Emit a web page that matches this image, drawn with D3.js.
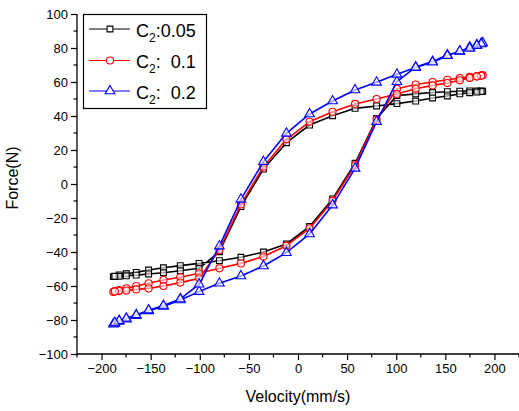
<!DOCTYPE html>
<html>
<head>
<meta charset="utf-8">
<script src="https://cdn.jsdelivr.net/npm/d3@7"></script>
<style>
  html, body { margin: 0; padding: 0; background: #fff; }
  svg { display: block; }
  text { font-family: "Liberation Sans", Arial, sans-serif; fill: #000; }
</style>
</head>
<body>
<svg id="chart" width="519" height="411"></svg>
<script>
// Velocity (mm/s) at each sample: rising branch, then falling branch (loop is closed)
const velocity = [-188, -186.5, -182.1, -174.8, -164.7, -152.1, -137, -119.8, -100.7, -80, -58.1, -35.2, -11.8,
  11.8, 35.2, 58.1, 80, 100.7, 119.8, 137, 152.1, 164.7, 174.8, 182.1, 186.5, 188,
  186.5, 182.1, 174.8, 164.7, 152.1, 137, 119.8, 100.7, 80, 58.1, 35.2, 11.8,
  -11.8, -35.2, -58.1, -80, -100.7, -119.8, -137, -152.1, -164.7, -174.8, -182.1, -186.5];

// Force (N) for C2 = 0.05
const forceC005 = [-54.5, -54.2, -53.5, -52.8, -52.0, -50.6, -49.3, -48.0, -46.7, -45.1, -43.1, -40.0, -35.3,
  -25.0, -8.8, 12.2, 38.5, 52.0, 53.0, 53.8, 54.3, 54.6, 54.8, 54.8, 54.7, 54.6,
  54.4, 54.1, 53.7, 53.0, 51.8, 50.6, 48.8, 47.3, 45.9, 44.5, 40.2, 34.7,
  24.3, 8.8, -13.3, -39.8, -49.6, -51.0, -52.2, -52.9, -53.6, -54.0, -54.3, -54.4];

// Force (N) for C2 = 0.1
const forceC01 = [-63.5, -63.0, -62.4, -61.4, -60.0, -58.4, -56.5, -54.9, -52.5, -49.6, -46.7, -42.7, -36.3,
  -26.1, -9.8, 11.0, 38.0, 56.0, 58.5, 60.0, 61.3, 62.3, 63.0, 63.5, 63.8, 64.0,
  63.7, 63.2, 62.3, 61.0, 59.4, 58.0, 56.0, 53.0, 50.0, 47.1, 42.5, 36.6,
  26.3, 10.2, -12.0, -38.8, -55.5, -58.0, -60.0, -61.4, -62.0, -62.7, -63.0, -63.3];

// Force (N) for C2 = 0.2
const forceC02 = [-82.5, -82.0, -80.8, -79.5, -77.5, -74.6, -72.0, -68.2, -63.3, -58.4, -54.1, -48.2, -40.4,
  -29.4, -12.4, 9.2, 36.7, 60.2, 68.8, 72.0, 75.9, 78.0, 80.5, 81.8, 82.6, 83.0,
  82.4, 81.4, 79.8, 78.2, 75.5, 71.6, 68.5, 64.5, 59.8, 55.3, 48.8, 41.2,
  29.8, 13.1, -9.0, -36.5, -59.0, -67.6, -71.5, -74.2, -77.0, -79.0, -80.4, -81.5];

const seriesNames = ["0.05", "  0.1", "  0.2"];
const xTicks = [-200, -150, -100, -50, 0, 50, 100, 150, 200];
const yTicks = [-100, -80, -60, -40, -20, 0, 20, 40, 60, 80, 100];
const xTitle = "Velocity(mm/s)";
const yTitle = "Force(N)";

const series = [
  { name: seriesNames[0], values: forceC005, color: "#000000", symbol: d3.symbolSquare, size: 34 },
  { name: seriesNames[1], values: forceC01, color: "#ff0000", symbol: d3.symbolCircle, size: 40 },
  { name: seriesNames[2], values: forceC02, color: "#0000ff", symbol: d3.symbolTriangle, size: 40 }
];

const svg = d3.select("#chart");
const mLeft = 77, mRight = 519, mTop = 14, mBottom = 354;

const x = d3.scaleLinear().domain([-225, 225]).range([mLeft, mRight]);
const y = d3.scaleLinear().domain([-100, 100]).range([mBottom, mTop]);

// Series
const line = d3.line()
  .x((d, i) => x(velocity[i]))
  .y(d => y(d))
  .curve(d3.curveLinearClosed);

series.forEach(s => {
  const g = svg.append("g");
  g.append("path")
    .attr("d", line(s.values))
    .attr("fill", "none")
    .attr("stroke", s.color)
    .attr("stroke-width", 1.6)
    .attr("stroke-linejoin", "round");
  g.selectAll("path.m")
    .data(s.values)
    .enter().append("path")
    .attr("class", "m")
    .attr("d", d3.symbol().type(s.symbol).size(s.size))
    .attr("transform", (d, i) => `translate(${x(velocity[i])},${y(d)})`)
    .attr("fill", "#ffffff")
    .attr("fill-opacity", 0.6)
    .attr("stroke", s.color)
    .attr("stroke-width", 1.1);
});

// Axes
const xMinor = d3.range(-225, 226, 25).filter(v => !xTicks.includes(v));
const yMinor = d3.range(-90, 91, 20);

const xAxis = svg.append("g").attr("transform", `translate(0,${mBottom})`);
xAxis.call(d3.axisBottom(x).tickValues(xTicks).tickSize(6).tickSizeOuter(0).tickPadding(4).tickFormat(d3.format("d")));
xAxis.selectAll("line.minor").data(xMinor).enter().append("line")
  .attr("class", "minor")
  .attr("x1", d => x(d)).attr("x2", d => x(d)).attr("y1", 0).attr("y2", 3.5)
  .attr("stroke", "#000").attr("stroke-width", 1.2);

const yAxis = svg.append("g").attr("transform", `translate(${mLeft},0)`);
yAxis.call(d3.axisLeft(y).tickValues(yTicks).tickSize(6).tickSizeOuter(0).tickPadding(3).tickFormat(d3.format("d")));
yAxis.selectAll("line.minor").data(yMinor).enter().append("line")
  .attr("class", "minor")
  .attr("x1", 0).attr("x2", -3.5).attr("y1", d => y(d)).attr("y2", d => y(d))
  .attr("stroke", "#000").attr("stroke-width", 1.2);

[xAxis, yAxis].forEach(a => {
  a.select(".domain").attr("stroke", "#000").attr("stroke-width", 1.3);
  a.selectAll(".tick line").attr("stroke", "#000").attr("stroke-width", 1.2);
  a.selectAll(".tick text").attr("font-size", 13).attr("font-family", "Liberation Sans, Arial, sans-serif").attr("fill", "#000");
});
xAxis.select(".domain").attr("d", `M${mLeft},0H${mRight}`);
yAxis.select(".domain").attr("d", `M0,${mBottom}V${mTop}`);

// Axis titles
svg.append("text")
  .attr("x", x(0)).attr("y", 402)
  .attr("text-anchor", "middle").attr("font-size", 16)
  .text(xTitle);
svg.append("text")
  .attr("transform", `translate(18,178) rotate(-90)`)
  .attr("text-anchor", "middle").attr("font-size", 16)
  .text(yTitle);

// Legend
const lg = svg.append("g");
lg.append("rect").attr("x", 83.5).attr("y", 14.5).attr("width", 123).attr("height", 94)
  .attr("fill", "#fff").attr("stroke", "#000").attr("stroke-width", 1.2);
const rowY = [29, 60.5, 91];
series.forEach((s, i) => {
  const yy = rowY[i];
  lg.append("line").attr("x1", 89).attr("x2", 130).attr("y1", yy).attr("y2", yy)
    .attr("stroke", s.color).attr("stroke-width", 1.1);
  lg.append("path").attr("d", d3.symbol().type(s.symbol).size(s.size)())
    .attr("transform", `translate(110,${yy})`)
    .attr("fill", "#fff").attr("stroke", s.color).attr("stroke-width", 1.1);
  const t = lg.append("text").attr("x", 136).attr("y", yy + 7.5).attr("font-size", 18)
    .attr("xml:space", "preserve").style("white-space", "pre");
  t.append("tspan").text("C");
  t.append("tspan").attr("font-size", 12).attr("dy", 5).text("2");
  t.append("tspan").attr("dy", -5).text(":" + s.name);
});
</script>
</body>
</html>
